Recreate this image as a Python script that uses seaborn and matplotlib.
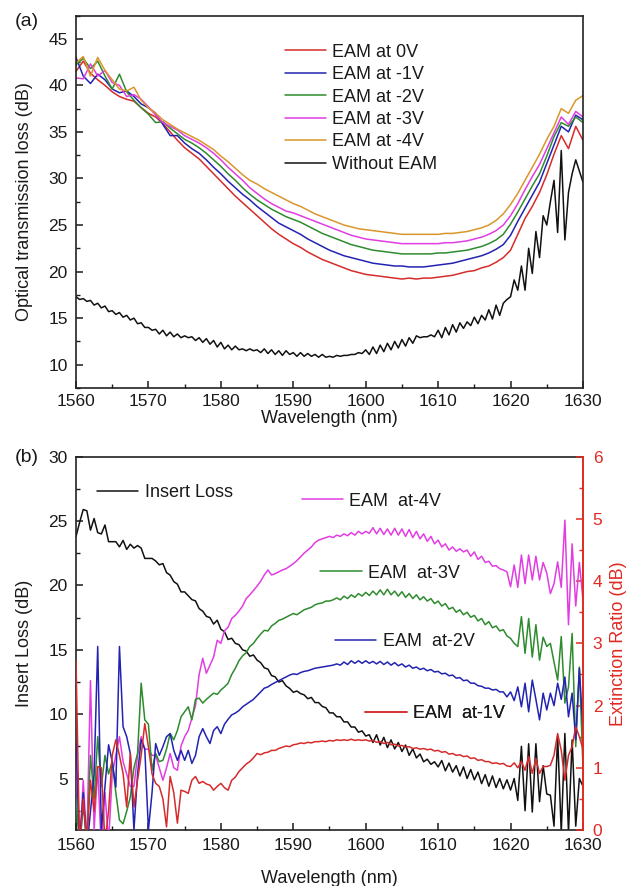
import numpy as np
import matplotlib
matplotlib.use("Agg")
import matplotlib.pyplot as plt
from matplotlib.ticker import MultipleLocator
import seaborn as sns

# ---------------- data ----------------
# (a) transmission loss, 1 nm grid for the EAM bias curves, 0.5 nm for the bare link
wl_1nm = np.arange(1560, 1631, 1.0)
wl_half = np.arange(1560, 1630.25, 0.5)

loss_0v = [41.5, 42.6, 41.3, 40.6, 40.0, 39.3, 38.8, 38.5, 38.3, 37.6,
           37.0, 36.6, 35.9, 35.0, 34.1, 33.3, 32.7, 32.1, 31.3, 30.5,
           29.7, 28.9, 28.1, 27.4, 26.7, 26.0, 25.3, 24.6, 24.0, 23.5,
           23.0, 22.6, 22.1, 21.7, 21.3, 21.0, 20.7, 20.4, 20.1, 19.9,
           19.7, 19.6, 19.5, 19.4, 19.3, 19.2, 19.3, 19.2, 19.3, 19.3,
           19.4, 19.5, 19.6, 19.8, 20.0, 20.1, 20.4, 20.6, 21.0, 21.5,
           22.3, 24.0, 25.7, 27.0, 28.5, 30.4, 32.6, 34.6, 33.2, 35.6,
           34.1]
loss_m1v = [43.0, 41.0, 40.2, 41.2, 40.6, 39.6, 39.2, 39.4, 38.8, 38.0,
            37.6, 37.0, 35.8, 34.6, 34.6, 33.8, 33.2, 32.7, 32.0, 31.2,
            30.5, 29.7, 29.0, 28.3, 27.7, 27.0, 26.4, 25.8, 25.2, 24.8,
            24.4, 24.0, 23.5, 23.1, 22.7, 22.3, 22.0, 21.7, 21.5, 21.3,
            21.1, 20.9, 20.8, 20.7, 20.6, 20.6, 20.5, 20.5, 20.5, 20.6,
            20.7, 20.8, 20.9, 21.1, 21.3, 21.5, 21.7, 22.0, 22.4, 22.9,
            23.9, 25.4, 26.8, 28.2, 29.6, 31.6, 33.6, 35.6, 35.0, 36.8,
            36.3]
loss_m2v = [42.2, 42.9, 41.8, 42.6, 41.0, 39.6, 41.2, 39.3, 38.4, 37.6,
            36.9, 36.0, 36.1, 35.4, 34.8, 34.2, 33.8, 33.3, 32.7, 32.0,
            31.3, 30.5, 29.8, 29.0, 28.3, 27.7, 27.2, 26.7, 26.3, 25.9,
            25.6, 25.3, 24.9, 24.5, 24.1, 23.8, 23.5, 23.2, 22.9, 22.7,
            22.5, 22.3, 22.2, 22.1, 22.0, 21.9, 21.9, 21.9, 21.9, 21.9,
            22.0, 22.0, 22.1, 22.2, 22.3, 22.5, 22.7, 23.0, 23.4, 24.0,
            25.1, 26.4, 27.8, 29.2, 30.5, 32.4, 34.5, 36.0, 35.6, 36.6,
            36.0]
loss_m3v = [40.8, 40.7, 42.3, 41.0, 41.6, 40.3, 40.0, 38.8, 39.0, 38.5,
            37.7, 36.8, 36.0, 35.6, 35.2, 34.6, 34.2, 33.8, 33.3, 32.7,
            32.0, 31.2, 30.5, 29.8, 29.0, 28.4, 27.8, 27.3, 26.9, 26.5,
            26.3, 26.0, 25.7, 25.4, 25.1, 24.8, 24.5, 24.2, 23.9, 23.7,
            23.5, 23.4, 23.3, 23.2, 23.1, 23.0, 23.0, 23.0, 23.0, 23.0,
            23.0, 23.1, 23.1, 23.2, 23.3, 23.5, 23.7, 24.0, 24.4, 25.0,
            26.0, 27.3, 28.8, 30.2, 31.5, 33.2, 34.9, 36.6, 35.8, 37.2,
            36.6]
loss_m4v = [42.4, 43.1, 41.0, 43.0, 41.6, 40.6, 39.6, 39.4, 39.8, 38.4,
            37.6, 37.0, 36.3, 35.8, 35.3, 34.9, 34.5, 34.1, 33.6, 33.1,
            32.4, 31.8, 31.1, 30.4, 29.8, 29.4, 28.9, 28.5, 28.1, 27.7,
            27.3, 27.0, 26.6, 26.2, 25.9, 25.6, 25.3, 25.0, 24.8, 24.6,
            24.5, 24.4, 24.3, 24.2, 24.1, 24.0, 24.0, 24.0, 24.0, 24.0,
            24.0, 24.1, 24.1, 24.2, 24.3, 24.5, 24.7, 25.0, 25.5, 26.2,
            27.2, 28.4, 29.8, 31.2, 32.6, 34.2, 35.6, 37.5, 37.0, 38.4,
            38.9]
loss_no_eam = [17.3, 17.0, 17.1, 16.8, 16.9, 16.4, 16.6, 16.1, 16.3, 15.7,
               15.8, 15.4, 15.6, 15.1, 15.3, 14.8, 15.0, 14.4, 14.5, 14.0,
               14.0, 13.7, 13.8, 13.3, 13.7, 13.1, 13.5, 13.0, 13.3, 12.9,
               13.1, 12.9, 13.0, 12.6, 12.9, 12.4, 12.8, 12.2, 12.6, 11.9,
               12.4, 11.7, 12.1, 11.6, 12.0, 11.6, 11.7, 11.5, 11.7, 11.5,
               11.6, 11.3, 11.7, 11.2, 11.6, 11.1, 11.5, 11.0, 11.5, 11.1,
               11.3, 10.9, 11.3, 10.9, 11.2, 10.9, 11.1, 10.8, 11.1, 10.8,
               10.9, 10.8, 11.0, 10.9, 11.0, 11.0, 11.1, 11.1, 11.3, 11.2,
               11.6, 11.1, 11.9, 11.2, 12.1, 11.4, 12.3, 11.6, 12.5, 11.8,
               12.7, 12.0, 12.9, 12.3, 13.1, 12.9, 13.0, 13.0, 13.2, 13.0,
               13.7, 12.9, 14.0, 13.2, 14.3, 13.5, 14.5, 13.9, 14.6, 14.2,
               15.1, 14.4, 15.3, 14.8, 15.9, 14.9, 16.4, 15.3, 16.6, 17.0,
               17.3, 19.1, 18.0, 20.6, 18.0, 22.5, 19.8, 24.3, 21.5, 26.0,
               25.0, 27.5, 29.8, 24.2, 33.0, 23.4, 28.5, 30.5, 32.0, 30.8,
               29.6]

# (b) insert loss (left axis) and extinction ratio (right axis), 0.5 nm grid
insert_loss = [23.8, 24.9, 25.9, 25.8, 24.3, 25.2, 24.1, 24.0, 24.7, 23.4,
               23.4, 23.4, 23.0, 23.5, 22.8, 23.2, 22.9, 23.1, 22.9, 22.1,
               22.1, 22.1, 21.9, 21.6, 21.7, 21.0, 20.8, 20.3, 20.1, 19.5,
               19.5, 19.2, 18.9, 18.8, 18.2, 18.0, 17.6, 17.5, 17.0, 17.3,
               16.6, 16.4, 15.8, 15.9, 15.5, 15.4, 15.0, 14.9, 14.5, 14.6,
               14.2, 14.0, 13.6, 13.5, 13.0, 12.9, 12.5, 12.6, 12.2, 12.0,
               11.7, 11.8, 11.6, 11.5, 11.2, 11.3, 10.9, 10.9, 10.6, 10.5,
               10.1, 10.1, 9.8, 9.8, 9.4, 9.4, 9.0, 9.0, 8.6, 8.7,
               8.3, 8.4, 7.8, 8.4, 7.6, 8.2, 7.4, 8.0, 7.3, 7.8,
               7.1, 7.6, 6.8, 7.3, 6.6, 6.9, 6.3, 6.5, 6.1, 6.3,
               5.9, 6.4, 5.6, 6.2, 5.5, 6.0, 5.2, 5.9, 5.0, 5.7,
               4.9, 5.5, 4.6, 5.3, 4.4, 5.2, 4.3, 5.0, 4.2, 4.9,
               4.1, 5.0, 3.3, 7.5, 2.5, 7.7, 2.4, 7.7, 3.2, 6.0,
               3.8, 3.7, 1.3, 8.3, 0.8, 8.5, 0.8, 8.0, 1.3, 5.0,
               4.4]
er_m4v = [1.2, -0.3, 0.8, -0.2, 2.4, 0.0, 1.0, -0.3, 0.6, -0.2,
          0.9, 1.2, 1.5, 1.1, 0.9, 0.7, 0.7, 1.2, 1.5, 1.3,
          1.3, 1.2, 1.2, 1.0, 0.8, 1.0, 1.23, 1.0, 0.96, 1.35,
          1.5, 1.6, 1.8, 2.0, 2.5, 2.76, 2.52, 2.65, 2.78, 3.05,
          3.0, 3.2, 3.26, 3.4, 3.45, 3.52, 3.6, 3.72, 3.78, 3.85,
          3.92, 4.0, 4.1, 4.18, 4.1, 4.12, 4.15, 4.18, 4.2, 4.24,
          4.28, 4.33, 4.39, 4.45, 4.5, 4.55, 4.62, 4.66, 4.68, 4.7,
          4.72, 4.7, 4.74, 4.72, 4.76, 4.73, 4.78, 4.74, 4.8, 4.76,
          4.8, 4.77, 4.86, 4.76, 4.85, 4.75, 4.84, 4.74, 4.85, 4.74,
          4.84, 4.72, 4.83, 4.7, 4.8, 4.68, 4.76, 4.64, 4.72, 4.6,
          4.66, 4.55, 4.6, 4.5, 4.55, 4.48, 4.52, 4.47, 4.5, 4.4,
          4.47, 4.35, 4.4, 4.3, 4.32, 4.24, 4.25, 4.2, 4.18, 4.15,
          3.91, 4.26, 3.9, 4.42, 3.96, 4.42, 4.02, 4.4, 4.02, 4.3,
          4.13, 3.8, 3.96, 4.31, 3.9, 4.98, 3.3, 4.6, 3.6, 4.3,
          3.7]
er_m3v = [0.5, -0.3, 0.4, -0.2, 1.2, 0.5, 1.5, 0.7, 1.2, 0.9,
          1.1, 0.6, 0.16, 0.1, 0.3, 0.53, 1.0, 1.23, 2.36, 1.77,
          1.7, 0.96, 1.23, 1.1, 1.12, 1.3, 1.55, 1.45, 1.6, 1.82,
          1.9, 1.98, 1.77, 2.1, 2.12, 2.04, 2.1, 2.15, 2.2, 2.18,
          2.25, 2.3, 2.36, 2.5, 2.6, 2.72, 2.8, 2.85, 2.95, 3.0,
          3.08, 3.15, 3.21, 3.2, 3.28, 3.32, 3.37, 3.39, 3.42, 3.45,
          3.48, 3.46, 3.5, 3.54, 3.56, 3.58, 3.62, 3.64, 3.65, 3.68,
          3.68, 3.7, 3.73, 3.7, 3.76, 3.72, 3.78, 3.74, 3.8, 3.76,
          3.82, 3.77, 3.84, 3.78, 3.86, 3.78, 3.87, 3.78, 3.84, 3.76,
          3.83, 3.74, 3.8, 3.72, 3.78, 3.7, 3.75, 3.68, 3.72, 3.64,
          3.68, 3.6, 3.64, 3.55, 3.58, 3.5, 3.54, 3.46, 3.5, 3.42,
          3.45, 3.36, 3.4, 3.3, 3.35, 3.25, 3.28, 3.2, 3.22, 3.12,
          3.08, 3.0, 2.95, 3.43, 2.84, 3.4, 2.78, 3.3, 2.73, 3.1,
          2.95, 3.0, 2.7, 2.41, 3.11, 2.04, 2.3, 3.16, 1.34, 2.62,
          1.0]
er_m2v = [1.39, -0.2, 0.6, -0.3, 0.3, 0.9, 2.95, 0.0, 0.7, 1.37,
          1.1, 0.69, 2.95, 1.66, 1.5, 1.23, 0.0, 0.9, 1.45, 1.3,
          0.0, 0.6, 1.39, 1.2, 1.34, 1.5, 1.55, 1.28, 1.12, 1.28,
          1.12, 1.28, 1.07, 1.2, 1.5, 1.63, 1.5, 1.39, 1.6, 1.66,
          1.55, 1.7, 1.78, 1.85, 1.88, 1.92, 1.98, 2.02, 2.06, 2.1,
          2.16, 2.22, 2.28, 2.3, 2.34, 2.37, 2.4, 2.43, 2.46, 2.49,
          2.51, 2.5, 2.53, 2.55, 2.56, 2.58, 2.6, 2.61, 2.62, 2.63,
          2.64, 2.65, 2.67, 2.65, 2.7, 2.66, 2.72, 2.68, 2.72, 2.68,
          2.72, 2.68, 2.71, 2.67, 2.71, 2.66, 2.7, 2.65, 2.69, 2.64,
          2.67, 2.62, 2.65, 2.6, 2.62, 2.58, 2.6, 2.56, 2.58, 2.54,
          2.55, 2.51, 2.52, 2.48, 2.49, 2.44, 2.45, 2.4, 2.41, 2.36,
          2.36, 2.32, 2.31, 2.28, 2.28, 2.25, 2.26, 2.22, 2.22, 2.14,
          2.22, 2.08, 2.3, 1.98, 2.36, 1.9, 2.41, 2.1, 1.77, 2.2,
          1.93, 2.2, 2.0, 2.36, 2.1, 2.46, 1.82, 2.2, 1.45, 2.6,
          1.6]
er_m1v = [2.73, -0.3, 0.5, -0.2, 0.8, 0.3, 1.02, 1.0, -0.2, 0.3,
          1.2, 1.45, 1.2, 0.91, 0.37, 1.23, 0.37, 0.8, 1.2, 1.71,
          1.34, 0.9, 0.75, 0.7, 0.5, 0.05, 0.86, 0.6, 0.11, 0.64,
          0.62, 0.59, 0.8, 0.86, 0.75, 0.78, 0.74, 0.72, 0.64, 0.7,
          0.75, 0.68, 0.64, 0.8, 0.85, 0.94, 1.0, 1.06, 1.1, 1.16,
          1.23, 1.21, 1.24, 1.25, 1.28, 1.28, 1.31, 1.33, 1.35, 1.34,
          1.37, 1.38, 1.4, 1.39, 1.41, 1.4, 1.42, 1.42, 1.43, 1.42,
          1.44, 1.43, 1.45, 1.44, 1.45, 1.44, 1.46, 1.44, 1.45, 1.44,
          1.45, 1.43, 1.44, 1.41, 1.42, 1.39, 1.41, 1.37, 1.38, 1.35,
          1.36, 1.33, 1.34, 1.31, 1.32, 1.3, 1.31, 1.29, 1.3, 1.27,
          1.28, 1.25, 1.26, 1.22, 1.23, 1.2, 1.21, 1.18, 1.19, 1.15,
          1.16, 1.12, 1.13, 1.1, 1.1, 1.07, 1.08, 1.06, 1.07, 1.03,
          1.02, 1.08, 1.0, 1.1, 0.96, 1.18, 0.91, 1.15, 0.91, 1.02,
          1.02, 1.04, 1.2, 1.55, 1.28, 0.8, 1.2, 1.34, 1.66, 1.5,
          1.3]

labels_a = ["EAM at 0V", "EAM at -1V", "EAM at -2V", "EAM at -3V",
            "EAM at -4V", "Without EAM"]
labels_b = ["EAM  at-4V", "EAM  at-3V", "EAM  at-2V", "EAM  at-1V"]

for arr in (loss_0v, loss_m1v, loss_m2v, loss_m3v, loss_m4v):
    assert len(arr) == len(wl_1nm)
for arr in (loss_no_eam, insert_loss, er_m4v, er_m3v, er_m2v, er_m1v):
    assert len(arr) == len(wl_half)

# ---------------- style ----------------
RED = "#d62b2b"
BLUE = "#2323b2"
GREEN = "#2e8b2e"
MAGENTA = "#e23de2"
ORANGE = "#d9962a"
BLACK = "#111111"
AXRED = "#e02a22"

sns.set_theme(style="ticks")
plt.rcParams["font.family"] = ["Liberation Sans", "DejaVu Sans"]
plt.rcParams.update({
    "axes.linewidth": 1.2,
    "axes.edgecolor": "#222222",
    "xtick.direction": "in",
    "ytick.direction": "in",
    "xtick.major.size": 5,
    "ytick.major.size": 5,
    "xtick.minor.size": 3,
    "ytick.minor.size": 3,
    "xtick.major.width": 1.1,
    "ytick.major.width": 1.1,
    "xtick.minor.width": 1.0,
    "ytick.minor.width": 1.0,
    "xtick.labelsize": 12.5,
    "ytick.labelsize": 12.5,
    "axes.labelsize": 13,
    "text.color": "#1a1a1a",
    "axes.labelcolor": "#1a1a1a",
    "xtick.color": "#1a1a1a",
    "ytick.color": "#1a1a1a",
})

fig = plt.figure(figsize=(6.37, 8.86), dpi=100)
ax_a = fig.add_axes([0.1193, 0.5621, 0.7959, 0.4204])
ax_b = fig.add_axes([0.1193, 0.0632, 0.7959, 0.4213])

# ---------------- panel (a) ----------------
curves_a = [(loss_0v, RED), (loss_m1v, BLUE), (loss_m2v, GREEN),
            (loss_m3v, MAGENTA), (loss_m4v, ORANGE)]
for (vals, col), lab in zip(curves_a, labels_a[:5]):
    sns.lineplot(x=wl_1nm, y=vals, ax=ax_a, color=col, linewidth=1.1,
                 label=lab, sort=False, errorbar=None)
sns.lineplot(x=wl_half, y=loss_no_eam, ax=ax_a, color=BLACK, linewidth=1.1,
             label=labels_a[5], sort=False, errorbar=None)

ax_a.set_xlim(1560, 1630)
ax_a.set_ylim(7.5, 47.5)
ax_a.xaxis.set_major_locator(MultipleLocator(10))
ax_a.xaxis.set_minor_locator(MultipleLocator(5))
ax_a.yaxis.set_major_locator(MultipleLocator(5))
ax_a.yaxis.set_minor_locator(MultipleLocator(2.5))
ax_a.tick_params(which="both", top=False, right=False)
ax_a.tick_params(axis="x", pad=4.5)
ax_a.tick_params(axis="y", pad=6)
ax_a.set_xlabel("Wavelength (nm)")
ax_a.set_ylabel("Optical transmission loss (dB)")
ax_a.yaxis.set_label_coords(-0.085, 0.5)
ax_a.xaxis.set_label_coords(0.5, -0.058)
ax_a.legend(loc="upper left", bbox_to_anchor=(0.412, 0.924), frameon=False,
            fontsize=13, handlelength=2.3, handletextpad=0.3,
            labelspacing=0.3, borderpad=0, borderaxespad=0)

# ---------------- panel (b) ----------------
sns.lineplot(x=wl_half, y=insert_loss, ax=ax_b, color=BLACK, linewidth=1.1,
             legend=False, sort=False, errorbar=None)
il_line = ax_b.get_lines()[-1]

ax_r = ax_b.twinx()
er_lines = []
for vals, col in [(er_m4v, MAGENTA), (er_m3v, GREEN), (er_m2v, BLUE), (er_m1v, RED)]:
    sns.lineplot(x=wl_half, y=vals, ax=ax_r, color=col, linewidth=1.1,
                 legend=False, sort=False, errorbar=None)
    er_lines.append(ax_r.get_lines()[-1])

ax_b.set_xlim(1560, 1630)
ax_b.set_ylim(1, 30)
ax_r.set_ylim(0, 6)
ax_b.xaxis.set_major_locator(MultipleLocator(10))
ax_b.xaxis.set_minor_locator(MultipleLocator(5))
ax_b.yaxis.set_major_locator(MultipleLocator(5))
ax_b.yaxis.set_minor_locator(MultipleLocator(2.5))
ax_r.yaxis.set_major_locator(MultipleLocator(1))
ax_r.yaxis.set_minor_locator(MultipleLocator(0.5))
ax_b.tick_params(which="both", top=False, right=False)
ax_b.tick_params(axis="x", pad=6)
ax_b.tick_params(axis="y", pad=6)
ax_b.spines["right"].set_visible(False)
for side in ("left", "top", "bottom"):
    ax_r.spines[side].set_visible(False)
ax_r.spines["right"].set_color(AXRED)
ax_r.spines["right"].set_linewidth(1.4)
ax_r.tick_params(axis="y", which="both", colors=AXRED, direction="in", pad=7)
ax_r.set_ylabel("Extinction Ratio (dB)", color=AXRED)
ax_r.yaxis.set_label_coords(1.053, 0.5)

ax_b.set_xlabel("Wavelength (nm)")
ax_b.set_ylabel("Insert Loss (dB)")
ax_b.yaxis.set_label_coords(-0.085, 0.5)
ax_b.xaxis.set_label_coords(0.5, -0.107)

# in-plot keys, one per curve
key_spots = [(il_line, "Insert Loss", 0.0408, 0.9046)]
key_spots += list(zip(er_lines, labels_b,
                      [0.445, 0.4813, 0.5108, 0.570],
                      [0.8813, 0.6877, 0.5044, 0.3126]))
for line, text, kx, ky in key_spots:
    leg = ax_r.legend([line], [text], loc="center left", bbox_to_anchor=(kx, ky),
                      frameon=False, fontsize=13, handlelength=2.3,
                      handletextpad=0.35, borderpad=0, borderaxespad=0)
    ax_r.add_artist(leg)

fig.text(15 / 637, 1 - 21 / 886, "(a)", fontsize=14, ha="left", va="center")
fig.text(15 / 637, 1 - 458 / 886, "(b)", fontsize=14, ha="left", va="center")

fig.savefig("out.png", dpi=100)
